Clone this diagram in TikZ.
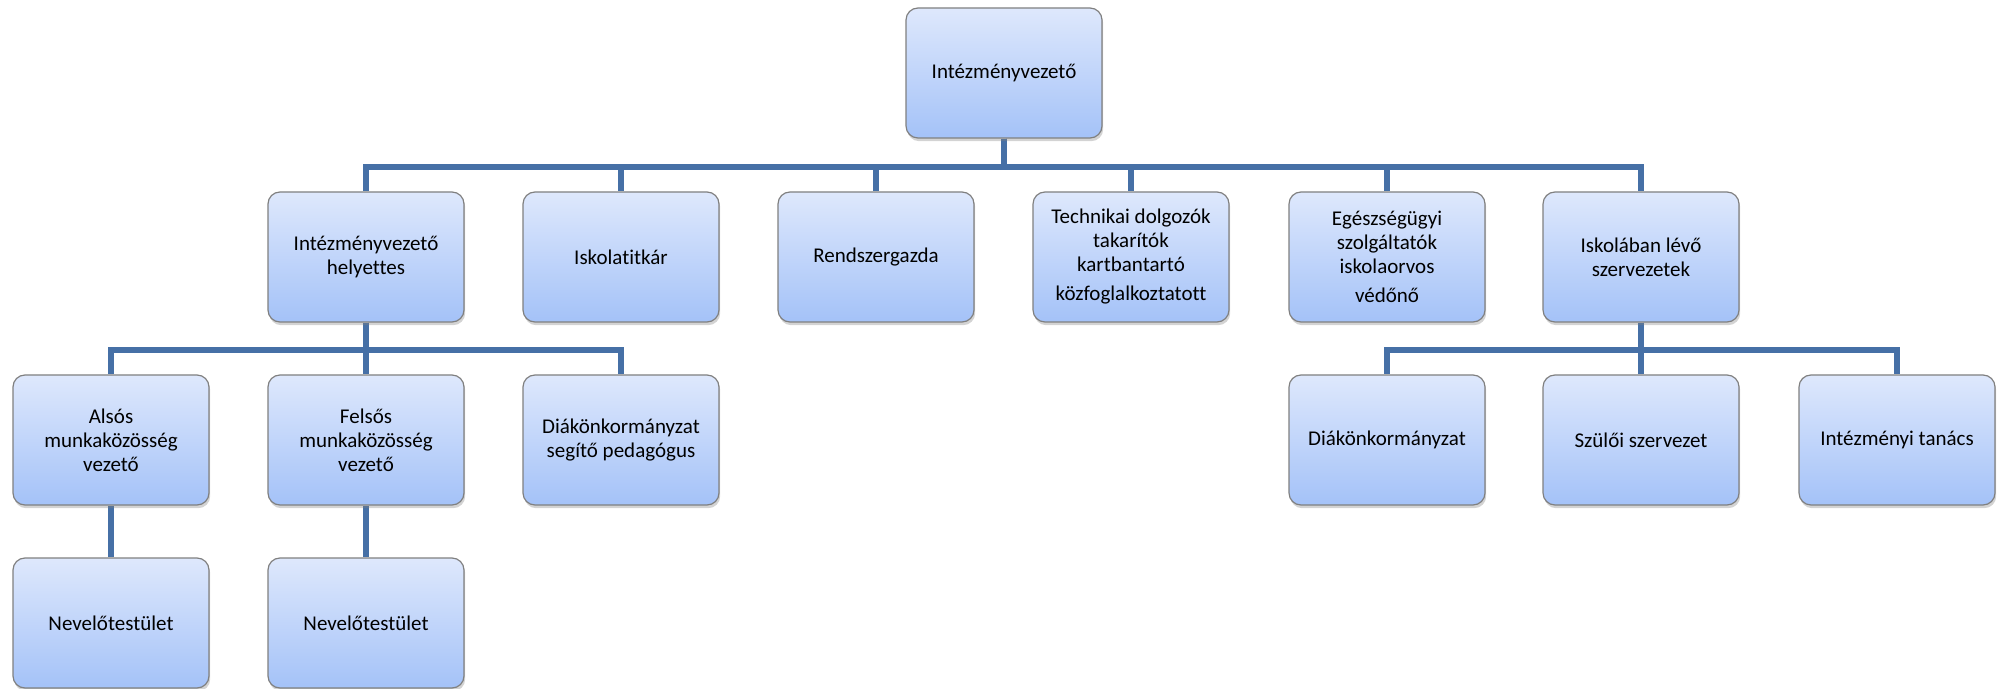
\documentclass[tikz,border=0pt]{standalone}
\usepackage{fontspec}
\setmainfont{Carlito}[RawFeature={-liga}]
\usetikzlibrary{shadows,backgrounds}
\definecolor{boxtop}{RGB}{222,232,252}
\definecolor{boxbot}{RGB}{164,194,248}
\definecolor{boxline}{RGB}{128,128,128}
\definecolor{conncol}{RGB}{70,112,166}
\tikzset{
  orgbox/.style={draw=boxline, line width=0.6pt, rounded corners=6pt,
    top color=boxtop, bottom color=boxbot,
    minimum width=98pt, minimum height=65pt, inner sep=2pt,
    align=center, text=black,
    font=\fontsize{10.5}{12}\selectfont,
    drop shadow={opacity=0.35, shadow xshift=0.6pt, shadow yshift=-1.6pt}},
  conn/.style={draw=conncol, line width=3pt}
}
\begin{document}
\begin{tikzpicture}[x=0.5pt,y=-0.5pt]
\useasboundingbox (0,0) rectangle (2002,689);
% level 1
\node[orgbox] (top) at (1004,73) {Intézményvezető};
% level 2
\node[orgbox] (h) at (366,257) {Intézményvezető\\helyettes};
\node[orgbox] (it) at (621,257) {Iskolatitkár};
\node[orgbox] (rg) at (876,257) {Rendszergazda};
\node[orgbox] (td) at (1131,257) {Technikai dolgozók\\takarítók\\kartbantartó\\[2.5pt]közfoglalkoztatott};
\node[orgbox] (eu) at (1387,257) {Egészségügyi\\szolgáltatók\\iskolaorvos\\[2.5pt]védőnő};
\node[orgbox] (isz) at (1641,257) {Iskolában lévő\\szervezetek};
% level 3
\node[orgbox] (am) at (111,440) {Alsós\\munkaközösség\\vezető};
\node[orgbox] (fm) at (366,440) {Felsős\\munkaközösség\\vezető};
\node[orgbox] (dsp) at (621,440) {Diákönkormányzat\\segítő pedagógus};
\node[orgbox] (dk) at (1387,440) {Diákönkormányzat};
\node[orgbox] (szsz) at (1641,440) {Szülői szervezet};
\node[orgbox] (itan) at (1897,440) {Intézményi tanács};
% level 4
\node[orgbox] (nt1) at (111,623) {Nevelőtestület};
\node[orgbox] (nt2) at (366,623) {Nevelőtestület};
% connectors
\begin{scope}[on background layer]
\foreach \c in {h,it,rg,td,eu,isz}
  \draw[conn] (top.south) -- ++(0,28) -| (\c.north);
\foreach \c in {am,fm,dsp}
  \draw[conn] (h.south) -- ++(0,27) -| (\c.north);
\foreach \c in {dk,szsz,itan}
  \draw[conn] (isz.south) -- ++(0,27) -| (\c.north);
\draw[conn] (am.south) -- (nt1.north);
\draw[conn] (fm.south) -- (nt2.north);
\end{scope}
\end{tikzpicture}
\end{document}
